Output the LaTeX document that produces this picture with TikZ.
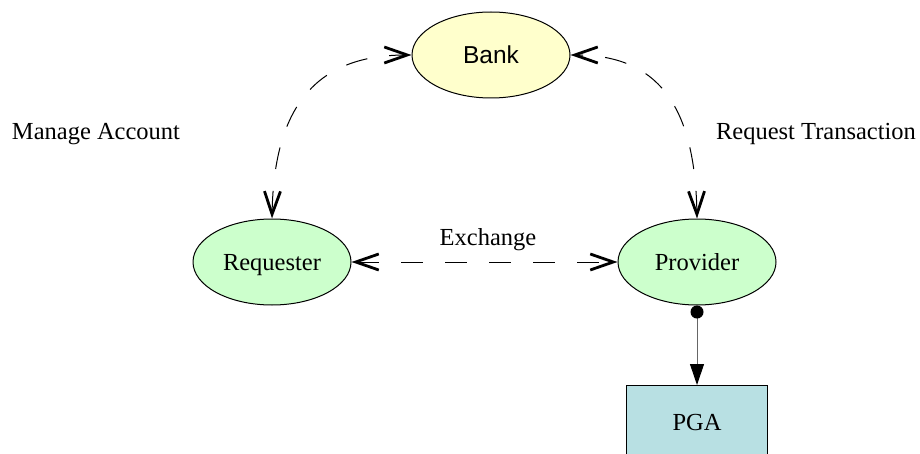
\documentclass[tikz,border=0pt]{standalone}
\usepackage{fontspec}
\setmainfont{Liberation Serif}
\newfontfamily\banksans{Liberation Sans}
\usetikzlibrary{arrows.meta,shapes.geometric}
\definecolor{bankfill}{HTML}{FFFFCC}
\definecolor{agentfill}{HTML}{CCFFCC}
\definecolor{pgafill}{HTML}{B8E0E3}
\begin{document}
\begin{tikzpicture}[x=1pt,y=1pt,
  every node/.style={font=\fontsize{24.5}{28}\selectfont},
  agent/.style={ellipse,draw=black,line width=1pt,minimum width=158pt,minimum height=86pt,inner sep=0pt,text depth=0pt},
  boxnode/.style={rectangle,draw=black,line width=1pt,fill=pgafill,minimum width=141pt,minimum height=80pt,inner sep=0pt,anchor=north},
  dashlink/.style={line width=1pt,dash pattern=on 22pt off 22pt,
    {Straight Barb[length=23pt,width=16pt,line width=2.8pt]}-{Straight Barb[length=23pt,width=16pt,line width=2.8pt]}},
  lbl/.style={inner sep=0pt,text depth=0pt}
]
\useasboundingbox (0,0) rectangle (920,453);
\begin{scope}
\clip (0,0) rectangle (920,453);
\node[boxnode] (pga) at (697,68) {};
\end{scope}
\node[lbl] (pgatext) at (697,31) {PGA};
\node[agent,fill=bankfill] (bank) at (491,398) {\banksans Bank};
\node[agent,fill=agentfill] (req) at (272,191) {Requester};
\node[agent,fill=agentfill] (prov) at (697,191) {Provider};

\draw[dashlink] (req.north) .. controls +(2,116) and +(-92,0) .. (bank.west);
\draw[dashlink] (prov.north) .. controls +(-2,116) and +(85,0) .. (bank.east);
\draw[dashlink] (req.east) -- (prov.west);

\draw[line width=1pt,draw=black!60,{Circle[length=13pt,black]}-{Triangle[length=21pt,width=14pt,black]}] (prov.south) -- (pga.north);

\node[lbl] (ma) at (96,322) {Manage Account};
\node[lbl] (rt) at (816,322) {Request Transaction};
\node[lbl] (ex) at (488,216) {Exchange};
\end{tikzpicture}
\end{document}
